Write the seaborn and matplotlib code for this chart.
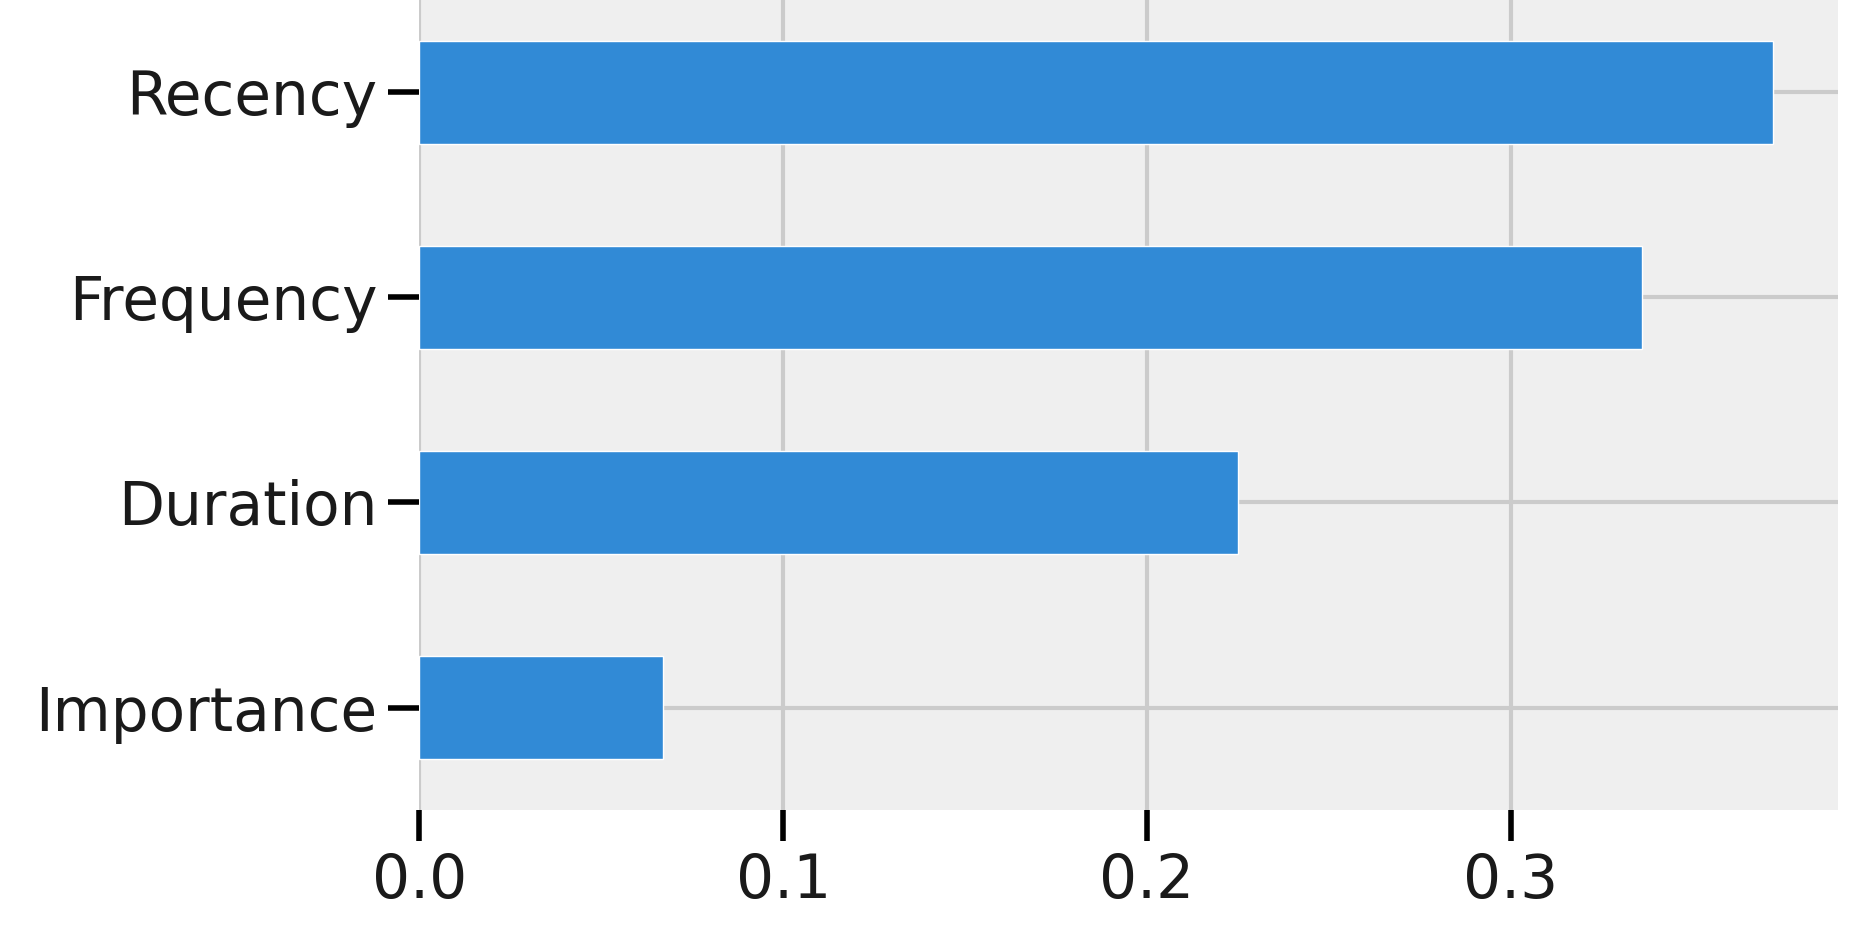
import matplotlib
matplotlib.use("Agg")
import matplotlib.pyplot as plt
import seaborn as sns
import pandas as pd

features = ["Recency", "Frequency", "Duration", "Importance"]
importances = [0.372, 0.336, 0.225, 0.067]

sns.set_theme(style="darkgrid")
plt.rcParams['font.family'] = ['DejaVu Sans']
df = pd.DataFrame({"feature": features, "importance": importances})

fig = plt.figure(figsize=(18.72, 9.41), dpi=100)
ax = fig.add_axes([0.224, 0.139, 0.758, 0.872])
ax.set_facecolor("#efefef")
fig.patch.set_facecolor("white")
sns.barplot(data=df, x="importance", y="feature", color="#318ad6", width=0.5,
            saturation=1, ax=ax, zorder=2)
ax.set_ylim(3.5, -0.5)
ax.set_xlim(0, 0.39)
ax.set_xticks([0.0, 0.1, 0.2, 0.3])
ax.set_xticklabels(["0.0", "0.1", "0.2", "0.3"])
ax.grid(True, color="#cbcbcb", linewidth=3)
ax.set_axisbelow(True)
for s in ax.spines.values():
    s.set_visible(False)
ax.tick_params(axis="both", labelsize=43, length=22, width=4, color="black",
               labelcolor="#1a1a1a", pad=8, bottom=True, left=True)
ax.set_xlabel("")
ax.set_ylabel("")
fig.savefig("out.png", dpi=100)
